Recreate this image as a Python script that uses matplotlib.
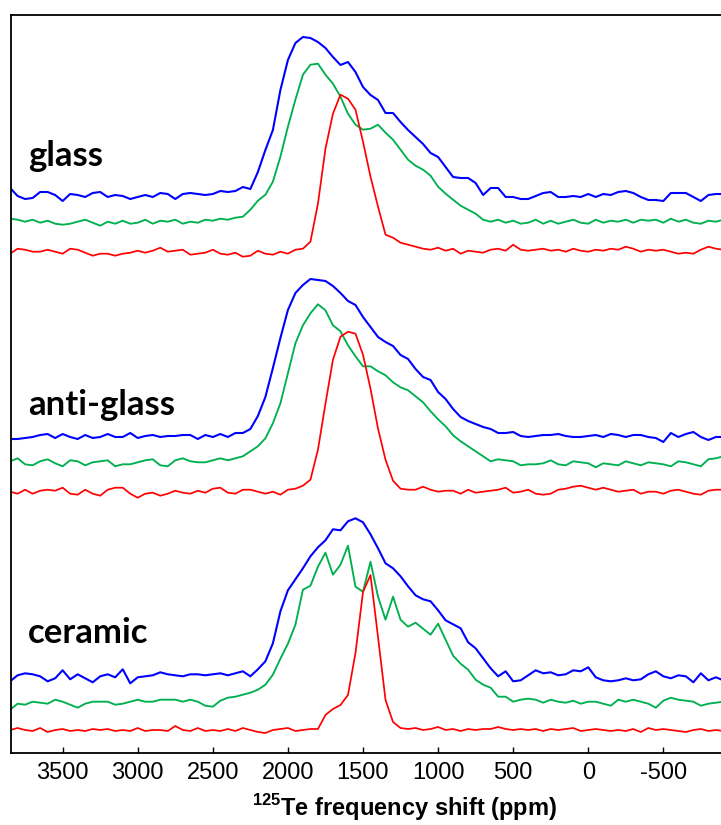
import matplotlib.pyplot as plt
import numpy as np

# 125Te NMR spectra, three samples, three traces each (blue / green / red)

plt.rcParams.update({
    'font.family': 'Liberation Sans',
    'axes.unicode_minus': False,
    'mathtext.fontset': 'custom',
    'mathtext.rm': 'Liberation Sans',
    'mathtext.bf': 'Liberation Sans:bold',
})

# chemical shift grid (ppm), read every 50 ppm
ppm = np.arange(3850, -901, -50)

# intensities above each trace's own baseline (arbitrary units)
glass_blue = [8, 0, -3, -2, 4, 4, 1, -5, 2, 1,
              -1, 3, 4, -1, 1, 0, -3, -1, 1, -1,
              3, 2, -3, 2, 3, 2, 1, 2, 5, 4,
              5, 9, 7, 24, 46, 66, 106, 136, 153, 159,
              158, 154, 148, 139, 131, 134, 124, 109, 101, 96,
              83, 83, 74, 66, 59, 52, 43, 39, 29, 19,
              18, 18, 13, 1, 8, 8, -1, -1, -3, -3,
              0, 3, 4, -1, -1, 0, -1, 2, -1, 2,
              1, 4, 5, 3, -1, -4, -4, -5, 3, 3,
              3, -1, -5, 1, 2, 2]
glass_green = [3, 2, 0, 2, -1, 1, -2, -3, -2, 0,
               2, -1, -4, 0, -2, 1, -2, -1, 2, -2,
               1, 0, 2, -2, 0, -1, 2, 1, 3, 2,
               4, 5, 12, 21, 27, 40, 65, 95, 122, 147,
               157, 158, 147, 138, 125, 108, 97, 92, 93, 97,
               89, 82, 72, 62, 56, 52, 46, 35, 28, 22,
               16, 12, 8, 2, 0, 2, -1, 1, -2, -1,
               2, -2, 1, -2, 0, 2, -1, -2, 2, -1,
               1, 0, 2, -1, 2, 1, 2, -1, 3, 0,
               2, -1, -2, 1, 0, 2]
glass_red = [-2, 3, 2, 0, 0, 2, 0, -2, 3, 2,
             -1, -4, -2, -2, -4, -2, -1, 1, -1, 1,
             4, 0, 1, 2, -3, -2, -1, 2, -2, -3,
             -1, -5, -4, 1, -2, -3, 0, -2, 2, 3,
             10, 48, 103, 138, 157, 153, 142, 110, 75, 45,
             17, 14, 9, 7, 5, 3, 2, 4, 1, 3,
             -2, 1, 0, -1, 2, 3, 1, 7, 2, 1,
             2, 3, 1, 2, 0, 3, 1, 0, 2, 1,
             3, 2, 5, 3, 0, 2, 1, 2, 0, -2,
             -1, -2, 2, 5, 3, 2]

anti_blue = [-3, -3, -2, -1, 1, 2, -2, 2, -1, -3,
             1, -2, -1, 2, -1, -1, 3, -2, 0, 1,
             -1, 0, 0, 1, 1, -3, 1, -1, 2, -1,
             3, 3, 7, 20, 39, 68, 98, 126, 143, 151,
             157, 156, 155, 150, 143, 135, 131, 119, 109, 99,
             94, 90, 81, 77, 67, 59, 56, 44, 37, 27,
             19, 15, 12, 9, 7, 3, 3, 4, 0, -1,
             0, 1, 1, 2, 0, -1, -1, 0, 1, -1,
             2, 1, -1, 1, 1, -1, -2, -6, 3, -1,
             2, 4, -1, -4, -1, -1]
anti_green = [2, 5, -1, -2, 2, 4, 0, -3, 3, 2,
              -2, 1, 2, 3, -3, -1, -1, 1, 3, 4,
              -2, -3, 3, 5, 2, 1, 1, 3, 5, 3,
              5, 7, 12, 17, 25, 40, 60, 90, 120, 138,
              150, 159, 153, 138, 132, 118, 107, 97, 97, 92,
              88, 81, 76, 73, 67, 61, 52, 44, 37, 28,
              22, 17, 12, 7, 2, 4, 3, 2, -2, -1,
              -1, 0, 3, -1, -2, 2, 1, 0, -4, 0,
              -1, -2, 2, 0, -2, 1, 0, -1, -3, 2,
              1, -1, -3, 4, 5, 7]
anti_red = [0, -2, 2, -2, 1, 2, 1, 4, -2, -3,
            2, -2, -4, 2, 4, 4, -2, -6, -2, -1,
            -4, -2, 1, -1, -2, 1, -1, 3, 4, -1,
            -2, 2, 2, 0, -2, 0, -3, 2, 3, 6,
            12, 42, 88, 132, 155, 160, 158, 137, 103, 63,
            32, 11, 3, 2, 2, 5, 2, 0, 1, 1,
            -2, 2, -1, 0, 1, 2, 4, -1, 0, 2,
            -2, -3, -2, 2, 3, 5, 6, 4, 2, 4,
            2, 0, 1, 2, -2, 0, 0, -2, 1, 2,
            0, -2, -3, 1, 2, 2]

ceramic_blue = [-3, 3, 5, 4, 2, -3, 0, 8, -1, 4,
                0, -4, 2, 4, 1, 9, -5, 1, 2, 3,
                6, 4, 3, 2, 4, 4, 3, 4, 5, 3,
                5, 7, 2, 9, 17, 35, 67, 88, 99, 110,
                122, 131, 138, 149, 148, 157, 160, 156, 144, 130,
                115, 110, 102, 92, 83, 79, 77, 68, 58, 54,
                50, 36, 30, 20, 10, 2, 7, -3, -2, 3,
                8, 5, 6, 3, 4, 8, 7, 11, 1, -2,
                -3, -2, 0, -2, -1, 4, 7, 2, 0, 3,
                2, -4, 5, -2, 1, -2]
ceramic_green = [-7, -1, -2, 1, 0, -1, 3, 1, -2, -5,
                 -1, 1, 1, 1, -2, -1, 1, 3, 1, 1,
                 3, 3, 3, 1, 3, 1, -3, -4, 2, 5,
                 6, 8, 10, 13, 18, 28, 44, 59, 78, 113,
                 117, 136, 150, 128, 138, 157, 116, 111, 141, 106,
                 83, 106, 83, 76, 80, 74, 68, 79, 63, 47,
                 39, 33, 23, 18, 15, 6, 6, 1, 3, 4,
                 3, 0, 3, 1, 0, 2, -1, 1, 1, -1,
                 -3, 3, 1, 3, 1, -1, -5, 2, 5, 3,
                 2, 1, -3, -1, 0, 1]
ceramic_red = [0, 2, 0, -1, 2, -2, 0, 1, -1, 0,
               -1, 1, 0, 1, -1, 0, -1, 2, -1, 0,
               0, -1, 4, 0, -1, 2, -1, 0, -1, 1,
               -1, 2, 0, -2, -3, 0, 1, 2, -1, 0,
               1, 1, 15, 21, 25, 35, 77, 138, 155, 93,
               30, 8, 2, 1, 2, 0, 1, 3, 0, 1,
               -1, 1, 0, 1, 1, 3, 1, 0, 1, 0,
               1, -1, 1, 0, 1, 2, -1, 0, 1, 0,
               -1, 0, -1, 1, -2, 2, 0, 1, 0, -1,
               -2, 0, 1, -1, 0, -1]

samples = ['glass', 'anti-glass', 'ceramic']
spectra = {
    'glass': (glass_blue, glass_green, glass_red),
    'anti-glass': (anti_blue, anti_green, anti_red),
    'ceramic': (ceramic_blue, ceramic_green, ceramic_red),
}

# stacking offsets and label heights (axes fraction)
offsets = {'glass': (556.7, 531.0, 501.0),
           'anti-glass': (316.7, 289.4, 261.0),
           'ceramic': (74.4, 50.0, 22.7)}
label_y = {'glass': 0.795, 'anti-glass': 0.4575, 'ceramic': 0.1486}
colors = ('#0000FF', '#00B050', '#FF0000')
widths = (1.5, 1.35, 1.25)

W, H = 721, 825
fig = plt.figure(figsize=(W / 100, H / 100), dpi=100)
ax = fig.add_axes([10.7 / W, 72.3 / H, 710.3 / W, 738.2 / H])

for name in samples:
    for vals, off, c, lw in zip(spectra[name], offsets[name], colors, widths):
        ax.plot(ppm, np.asarray(vals) + off, color=c, lw=lw)
    ax.text(0.024, label_y[name], name, transform=ax.transAxes,
            fontsize=25, fontweight='bold', family='Lato', va='baseline')

ax.set_xlim(3846, -884)
ax.set_ylim(0, 738.2)
ax.set_yticks([])
ax.set_xticks(np.arange(3500, -501, -500))
ax.tick_params(axis='x', direction='in', length=4.5, width=1.0,
               labelsize=17, pad=7)
ax.spines['right'].set_visible(False)
for s in ('left', 'top', 'bottom'):
    ax.spines[s].set_linewidth(1.3)

fig.text(405 / W, 9 / H, r'$^{\mathbf{125}}$Te frequency shift (ppm)',
         fontsize=17, fontweight='bold', ha='center', va='baseline')

fig.savefig('out.png', dpi=100)
